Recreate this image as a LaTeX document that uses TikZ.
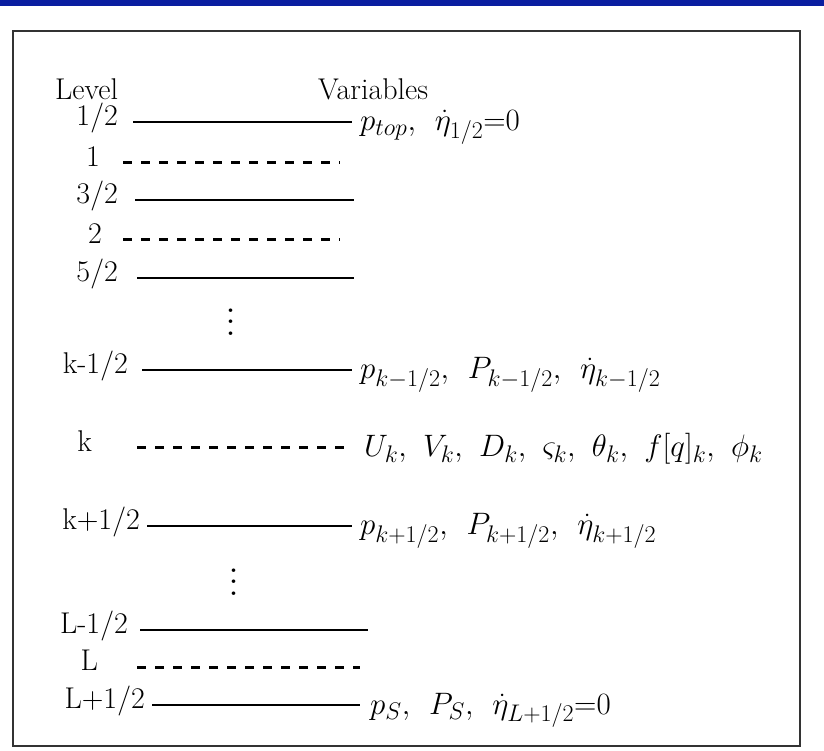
\RequirePackage{fix-cm}
\documentclass[tikz,border=0pt]{standalone}
\usepackage{amsmath}
\usepackage{fontspec}
\usepackage{xcolor}
\usetikzlibrary{positioning}
\definecolor{barblue}{RGB}{10,30,160}
\DeclareMathSizes{31}{31}{24}{19}
\newcommand{\tallvdots}{\vbox{\baselineskip=11.5pt\lineskiplimit=0pt\hbox{.}\hbox{.}\hbox{.}}}

\begin{document}
\begin{tikzpicture}[x=1pt,y=1pt,font=\fontsize{30}{36}\selectfont,
    lab/.style={anchor=east,inner sep=0pt,text height=0.95em,text depth=0.3em},
    head/.style={anchor=base west,inner sep=0pt},
    vars/.style={anchor=base west,inner sep=0pt,font=\fontsize{31}{36}\selectfont},
    skipdots/.style={inner sep=0pt,font=\fontsize{44}{44}\selectfont},
    solidlev/.style={line width=2.6pt},
    dashlev/.style={line width=3pt,dash pattern=on 9pt off 9pt}]
    \useasboundingbox (0,0) rectangle (824,750);
    % slide bar and scanned frame
    \fill[barblue] (0,744) rectangle (824,750);
    \draw[line width=2.5pt,black!80] (13,4) rectangle (800,719);
    % heading
    \node[head] (level) at (55,650) {Level};
    \node[head] (varhead) at (318,650) {Variables};
    % upper levels
    \node[lab] (l12) at (118,628) {1/2};  \coordinate (e12) at (352,628);
    \draw[solidlev] ([xshift=15pt]l12.east) -- (e12);
    \node[vars] (v12) at (360,619) {$p_{top},\;\, \dot{\eta}_{1/2}{=}0$};
    \node[lab] (l1) at (100,587) {1};     \coordinate (e1) at (340,587);
    \draw[dashlev] ([xshift=23pt]l1.east) -- (e1);
    \node[lab] (l32) at (118,550) {3/2};  \coordinate (e32) at (354,550);
    \draw[solidlev] ([xshift=17pt]l32.east) -- (e32);
    \node[lab] (l2) at (102,510) {2};     \coordinate (e2) at (340,510);
    \draw[dashlev] ([xshift=21pt]l2.east) -- (e2);
    \node[lab] (l52) at (118,472) {5/2};  \coordinate (e52) at (354,472);
    \draw[solidlev] ([xshift=19pt]l52.east) -- (e52);
    \node[skipdots] (dots1) at (231,428) {\tallvdots};
    % level k and its interfaces
    \node[lab] (lkm) at (128,380) {k-1/2}; \coordinate (ekm) at (352,380);
    \draw[solidlev] ([xshift=14pt]lkm.east) -- (ekm);
    \node[vars] (vkm) at (360,371) {$p_{k-1/2},\;\, P_{k-1/2},\;\, \dot{\eta}_{k-1/2}$};
    \node[lab] (lk) at (92,302) {k};       \coordinate (ek) at (352,302);
    \draw[dashlev] ([xshift=45pt]lk.east) -- (ek);
    \node[vars] (vk) at (364,293) {$U_k,\mskip6.5mu V_k,\mskip6.5mu D_k,\mskip6.5mu \varsigma_k,\mskip6.5mu \theta_k,\mskip6.5mu f[q]_k,\mskip6.5mu \phi_k$};
    \node[lab] (lkp) at (140,224) {k+1/2}; \coordinate (ekp) at (352,224);
    \draw[solidlev] ([xshift=7pt]lkp.east) -- (ekp);
    \node[vars] (vkp) at (360,215) {$p_{k+1/2},\;\, P_{k+1/2},\;\, \dot{\eta}_{k+1/2}$};
    \node[skipdots] (dots2) at (234,168) {\tallvdots};
    % bottom levels
    \node[lab] (lLm) at (128,120) {L-1/2}; \coordinate (eLm) at (368,120);
    \draw[solidlev] ([xshift=12pt]lLm.east) -- (eLm);
    \node[lab] (lL) at (98,83) {L};        \coordinate (eL) at (360,83);
    \draw[dashlev] ([xshift=39pt]lL.east) -- (eL);
    \node[lab] (lLp) at (145,45) {L+1/2};  \coordinate (eLp) at (360,45);
    \draw[solidlev] ([xshift=7pt]lLp.east) -- (eLp);
    \node[vars] (vLp) at (370,36) {$p_S,\;\, P_S,\;\, \dot{\eta}_{L+1/2}{=}0$};
\end{tikzpicture}
\end{document}
